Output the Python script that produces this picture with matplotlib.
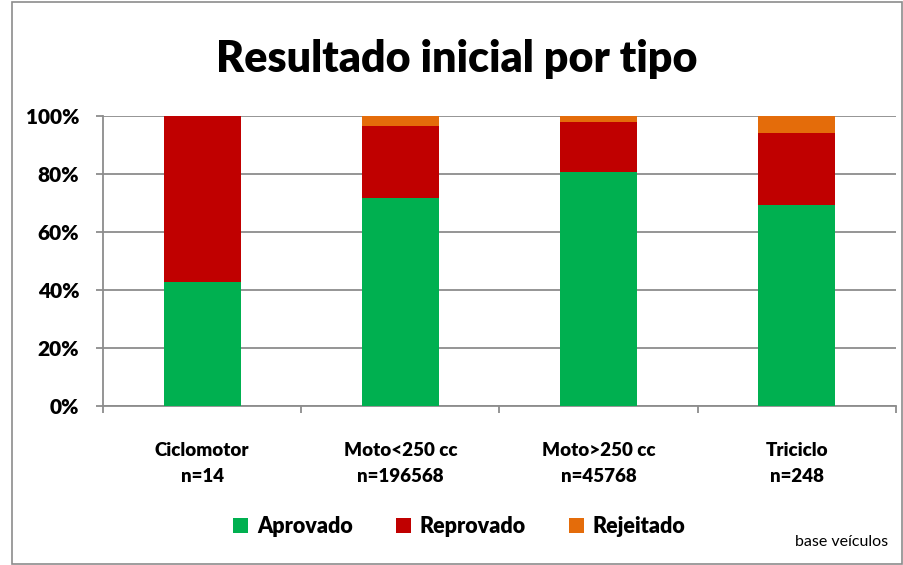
import matplotlib.pyplot as plt
import numpy as np
from matplotlib.patches import Rectangle
from matplotlib.ticker import FuncFormatter

plt.rcParams['font.family'] = ['Lato', 'DejaVu Sans']

# Data (percent of vehicles)
categories = ['Ciclomotor\nn=14', 'Moto<250 cc\nn=196568', 'Moto>250 cc\nn=45768', 'Triciclo\nn=248']
aprovado = [42.9, 71.8, 80.7, 69.2]
reprovado = [57.1, 24.9, 17.3, 24.8]
rejeitado = [0.0, 3.3, 2.0, 6.0]

colors = {'Aprovado': '#00B050', 'Reprovado': '#C00000', 'Rejeitado': '#E46C0A'}
heavy = 'heavy'

fig = plt.figure(figsize=(9.04, 5.65), dpi=100)
ax = fig.add_axes([0.114, 0.2814, 0.877, 0.5133])

x = np.arange(len(categories))
w = 0.39
bottom2 = np.array(aprovado)
bottom3 = bottom2 + np.array(reprovado)
ax.bar(x, aprovado, width=w, color=colors['Aprovado'], label='Aprovado', zorder=3)
ax.bar(x, reprovado, width=w, bottom=bottom2, color=colors['Reprovado'], label='Reprovado', zorder=3)
ax.bar(x, rejeitado, width=w, bottom=bottom3, color=colors['Rejeitado'], label='Rejeitado', zorder=3)

ax.set_xlim(-0.5, len(categories) - 0.5)
ax.set_ylim(0, 100)
ax.set_yticks(np.arange(0, 101, 20))
ax.yaxis.set_major_formatter(FuncFormatter(lambda v, pos: f'{v:.0f}%'))
ax.yaxis.grid(True, color='#8c8c8c', linewidth=1.3, zorder=0)
ax.set_xticks(np.arange(-0.5, len(categories), 1), minor=False)
ax.set_xticklabels([])
ax.set_xticks(x, minor=True)
ax.set_xticklabels(categories, minor=True, fontsize=13.5, fontweight=heavy, linespacing=1.6)
ax.tick_params(axis='x', which='minor', length=0, pad=26)
ax.tick_params(axis='x', which='major', length=5, color='#8c8c8c', width=1.3)
ax.tick_params(axis='y', length=5, color='#8c8c8c', width=1.3, labelsize=15, pad=12)
for lbl in ax.get_yticklabels():
    lbl.set_fontweight(heavy)

for s in ['top', 'right']:
    ax.spines[s].set_visible(False)
for s in ['left', 'bottom']:
    ax.spines[s].set_color('#8c8c8c')
    ax.spines[s].set_linewidth(1.3)

fig.text(0.505, 0.895, 'Resultado inicial por tipo', ha='center', va='center',
         fontsize=31, fontweight=heavy)

fig.legend(loc='center', bbox_to_anchor=(0.508, 0.068), ncol=3, frameon=False,
           prop={'size': 15.5, 'weight': heavy}, handlelength=0.7, handleheight=0.7,
           handletextpad=0.4, columnspacing=2.0)

fig.text(0.982, 0.04, 'base veículos', ha='right', va='center', fontsize=11.5)

fig.patches.append(Rectangle((0.013, 0.002), 0.985, 0.995, transform=fig.transFigure,
                             fill=False, edgecolor='#8c8c8c', linewidth=1.2))

fig.savefig('out.png', dpi=100)
